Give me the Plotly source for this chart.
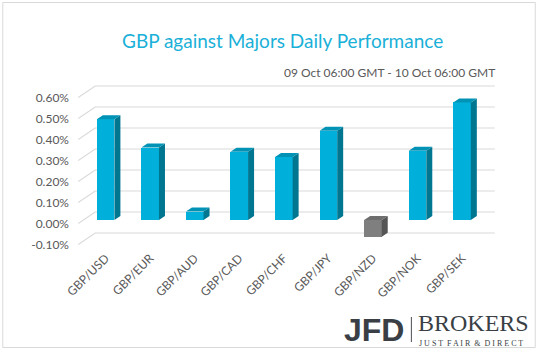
import plotly.graph_objects as go

categories = ["GBP/USD", "GBP/EUR", "GBP/AUD", "GBP/CAD", "GBP/CHF",
              "GBP/JPY", "GBP/NZD", "GBP/NOK", "GBP/SEK"]
values = [0.48, 0.345, 0.04, 0.325, 0.30, 0.425, -0.08, 0.33, 0.56]
tick_vals = [-0.1, 0.0, 0.1, 0.2, 0.3, 0.4, 0.5, 0.6]
title_text = "GBP against Majors Daily Performance"
subtitle_text = "09 Oct 06:00 GMT - 10 Oct 06:00 GMT"

W, H = 538, 351
# plot area in pixels
PL, PR, PT, PB = 77.8, 495.2, 80, 245
XR = [-0.62, 8.74]
YR = [-0.119, 0.6667]
px_per_x = (PR - PL) / (XR[1] - XR[0])
px_per_y = (PB - PT) / (YR[1] - YR[0])

BW = 0.395
DX = 6 / px_per_x
DY = 4 / px_per_y
BACK_SHIFT = 8 / px_per_y      # back wall gridlines above bar baseline
LABEL_SHIFT = -3.5 / px_per_y  # front labels below bar baseline
BACK_LEFT = XR[0] + (95 - PL) / px_per_x
BACK_RIGHT = XR[0] + (495 - PL) / px_per_x
FRONT_LEFT = XR[0] + 0.2 / px_per_x

xs = list(range(len(categories)))
pos = [v >= 0 for v in values]

front_cols = ["#00B0DA" if p else "#7F7F7F" for p in pos]

fig = go.Figure()

# gridlines (side wall diagonal + back wall) as shapes below the bars
shapes = []
for t in tick_vals:
    path = (f"M {FRONT_LEFT},{t + LABEL_SHIFT} L {BACK_LEFT},{t + BACK_SHIFT} "
            f"L {BACK_RIGHT},{t + BACK_SHIFT}")
    shapes.append(dict(type="path", xref="x", yref="y", path=path,
                       line=dict(color="#D9D9D9", width=1.1), layer="below"))

# front faces
fig.add_trace(go.Bar(x=xs, y=values, width=BW, marker=dict(color=front_cols, line=dict(width=0)),
                     showlegend=False))

def faces(sel):
    sx, sy, tx, ty = [], [], [], []
    for x, v, p in zip(xs, values, pos):
        if p != sel:
            continue
        top, bot = max(v, 0), min(v, 0)
        r = x + BW / 2
        l = x - BW / 2
        sx += [r, r + DX, r + DX, r, r, None]
        sy += [bot, bot + DY, top + DY, top, bot, None]
        tx += [l, l + DX, r + DX, r, l, None]
        ty += [top, top + DY, top + DY, top, top, None]
    return sx, sy, tx, ty

for sel, side_c, top_c in [(True, "#007690", "#0093B5"), (False, "#555555", "#6E6E6E")]:
    sx, sy, tx, ty = faces(sel)
    if not sx:
        continue
    fig.add_trace(go.Scatter(x=sx, y=sy, mode="lines", fill="toself", fillcolor=side_c,
                             line=dict(width=0, color=side_c), hoverinfo="skip", showlegend=False))
    fig.add_trace(go.Scatter(x=tx, y=ty, mode="lines", fill="toself", fillcolor=top_c,
                             line=dict(width=0, color=top_c), hoverinfo="skip", showlegend=False))

# invisible trace on yaxis2 to carry front tick labels
fig.add_trace(go.Scatter(x=[None], y=[None], yaxis="y2", showlegend=False, hoverinfo="skip"))

def px_to_paper_x(px):
    return (px - PL) / (PR - PL)

def px_to_paper_y(py):
    return (PB - py) / (PB - PT)

shapes += [dict(type="rect", xref="paper", yref="paper",
                x0=px_to_paper_x(2.5), x1=px_to_paper_x(535.5),
                y0=px_to_paper_y(347.5), y1=px_to_paper_y(2.5),
                line=dict(color="#D9D9D9", width=1), fillcolor="rgba(0,0,0,0)", layer="below"),
           dict(type="line", xref="paper", yref="paper",
                x0=px_to_paper_x(411.5), x1=px_to_paper_x(411.5),
                y0=px_to_paper_y(342), y1=px_to_paper_y(317),
                line=dict(color="#4A4F55", width=1))]

fig.update_layout(
    width=W, height=H,
    margin=dict(l=PL, r=W - PR, t=PT, b=H - PB, pad=0),
    paper_bgcolor="white", plot_bgcolor="rgba(0,0,0,0)",
    font=dict(family="Lato, Carlito, Noto Sans, sans-serif", color="#595959", size=12),
    bargap=0,
    xaxis=dict(range=XR, tickmode="array", tickvals=xs, ticktext=categories,
               tickangle=-45, showgrid=False, zeroline=False, showline=False,
               ticks="", ticklabelstandoff=3,
               tickfont=dict(size=12, color="#595959"), fixedrange=True),
    yaxis=dict(range=YR, showgrid=False, zeroline=False, showticklabels=False,
               showline=False, ticks="", fixedrange=True),
    yaxis2=dict(range=[YR[0] - LABEL_SHIFT, YR[1] - LABEL_SHIFT], overlaying="y", side="left",
                tickmode="array", tickvals=tick_vals,
                ticktext=[f"{t:.2f}%" for t in tick_vals],
                showgrid=False, zeroline=False, showline=False, ticks="",
                ticklabelstandoff=8,
                tickfont=dict(size=12, color="#595959"), fixedrange=True),
    shapes=shapes,
    annotations=[
        dict(text=title_text, xref="paper", yref="paper", x=px_to_paper_x(282), y=px_to_paper_y(40),
             xanchor="center", yanchor="middle", showarrow=False,
             font=dict(size=19, color="#1AB0D8", family="Lato, Carlito, sans-serif")),
        dict(text=subtitle_text, xref="paper", yref="paper", x=px_to_paper_x(497), y=px_to_paper_y(73),
             xanchor="right", yanchor="middle", showarrow=False,
             font=dict(size=12, color="#595959")),
        dict(text="<b>JFD</b>", xref="paper", yref="paper", x=px_to_paper_x(406), y=px_to_paper_y(329.5),
             xanchor="right", yanchor="middle", showarrow=False,
             font=dict(size=32, color="#3A3F45", family="Liberation Sans, Arial, sans-serif")),
        dict(text="BROKERS", xref="paper", yref="paper", x=px_to_paper_x(416), y=px_to_paper_y(338),
             xanchor="left", yanchor="bottom", showarrow=False,
             font=dict(size=24, color="#3A3F45", family="Liberation Serif, Times New Roman, serif")),
        dict(text="J U S T  F A I R  &amp;  D I R E C T", xref="paper", yref="paper",
             x=px_to_paper_x(471), y=px_to_paper_y(337),
             xanchor="center", yanchor="top", showarrow=False,
             font=dict(size=8, color="#3A3F45", family="Liberation Serif, Times New Roman, serif")),
    ],
)

fig.write_html("out.html")
